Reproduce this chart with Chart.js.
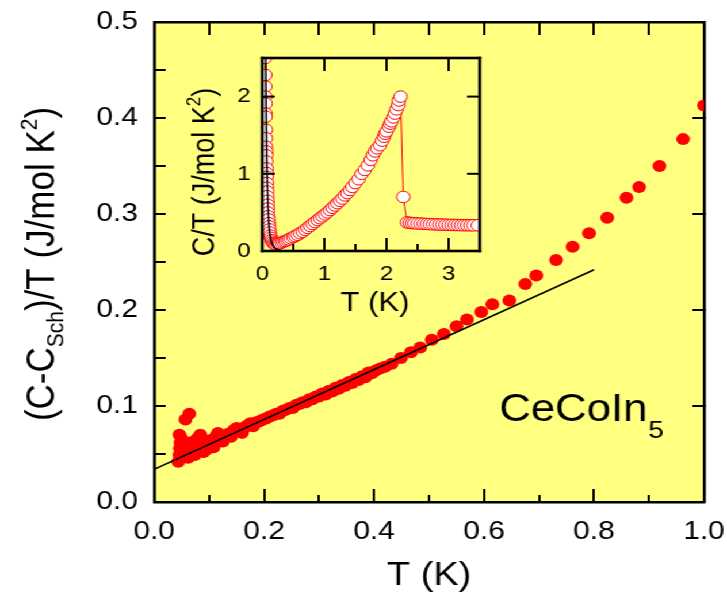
<!DOCTYPE html>
<html><head><meta charset="utf-8">
<script src="https://cdn.jsdelivr.net/npm/chart.js@4.4.0/dist/chart.umd.min.js"></script>
<style>
html,body{margin:0;padding:0;background:#fff;overflow:hidden;width:727px;height:598px;}
#wrap{position:absolute;left:0;top:0;width:632px;height:598px;transform:scaleX(1.1503);transform-origin:0 0;}
#main{position:absolute;left:0;top:0;}
#inset{position:absolute;left:160px;top:40px;}
</style></head><body>
<div id="wrap"><canvas id="main" width="632" height="598"></canvas><canvas id="inset" width="270" height="290"></canvas></div>
<script>
// ---- main panel: (C - C_Sch)/T vs T ----
const mainT = [0.044,0.046,0.047,0.046,0.048,0.050,0.053,0.057,0.064,0.058,
  0.062,0.066,0.071,0.074,0.078,0.084,0.086,0.090,0.096,0.100,
  0.104,0.108,0.112,0.116,0.120,0.125,0.130,0.135,0.140,0.145,
  0.150,0.155,0.160,0.165,0.170,0.175,0.180,0.186,0.192,0.198,
  0.204,0.210,0.216,0.222,0.228,0.234,0.240,0.246,0.252,0.258,
  0.264,0.270,0.276,0.282,0.288,0.294,0.300,0.306,0.312,0.318,
  0.324,0.330,0.336,0.342,0.348,0.354,0.360,0.366,0.372,0.378,
  0.384,0.390,0.396,0.403,0.411,0.420,0.432,0.449,0.467,0.484,
  0.505,0.527,0.550,0.569,0.595,0.615,0.646,0.675,0.695,0.731,
  0.761,0.791,0.824,0.859,0.882,0.919,0.962,1.000];
const mainC = [0.042,0.049,0.056,0.070,0.062,0.066,0.052,0.086,0.092,0.058,
  0.046,0.062,0.056,0.049,0.066,0.070,0.058,0.052,0.055,0.064,
  0.060,0.057,0.068,0.072,0.066,0.063,0.069,0.071,0.068,0.075,
  0.077,0.074,0.072,0.078,0.080,0.082,0.079,0.083,0.084,0.086,
  0.087,0.089,0.090,0.092,0.092,0.095,0.096,0.098,0.098,0.101,
  0.102,0.104,0.104,0.107,0.107,0.110,0.110,0.113,0.112,0.116,
  0.115,0.119,0.118,0.122,0.121,0.125,0.124,0.128,0.127,0.131,
  0.130,0.135,0.134,0.137,0.139,0.141,0.144,0.150,0.156,0.161,
  0.169,0.175,0.183,0.190,0.198,0.206,0.210,0.227,0.236,0.252,
  0.266,0.280,0.296,0.317,0.328,0.350,0.378,0.413];
const fitT = [0, 0.8];
const fitC = [0.034, 0.242];
const mainXTicks = [0, 0.2, 0.4, 0.6, 0.8, 1.0];
const mainYTicks = [0, 0.1, 0.2, 0.3, 0.4, 0.5];
const mainXMinor = [0.1, 0.3, 0.5, 0.7, 0.9];
const mainXMajorInner = [0.2, 0.4, 0.6, 0.8];
const mainTopTicks = [0.1, 0.2, 0.3, 0.4, 0.5, 0.6, 0.7, 0.8, 0.9];
const mainLeftTicks = [0.05, 0.1, 0.15, 0.2, 0.25, 0.3, 0.35, 0.4, 0.45];
const mainRightTicks = [0.1, 0.2, 0.3, 0.4];

// ---- inset: C/T vs T ----
const insetT = [0.045,0.05,0.05,0.05,0.055,0.055,0.055,0.06,0.06,0.06,
  0.065,0.065,0.065,0.07,0.07,0.07,0.075,0.075,0.08,0.08,
  0.085,0.085,0.09,0.09,0.095,0.10,0.105,0.11,0.115,0.12,
  0.13,0.14,0.15,0.165,0.18,0.20,0.22,0.25,
  0.28,0.31,0.34,0.37,0.40,0.43,0.46,0.50,0.53,0.57,
  0.61,0.65,0.69,0.73,0.77,0.81,0.85,0.89,0.93,0.97,
  1.01,1.05,1.09,1.13,1.17,1.21,1.25,1.29,1.33,1.37,
  1.41,1.45,1.50,1.55,1.60,1.65,1.70,1.745,1.78,1.814,
  1.85,1.894,1.93,1.96,1.98,2.0,2.04,2.06,2.08,2.11,
  2.135,2.16,2.19,2.20,2.226,
  2.27,
  2.33,2.37,2.41,2.45,2.50,2.55,2.60,2.65,2.70,2.75,
  2.80,2.85,2.90,2.95,3.00,3.05,3.10,3.15,3.20,3.25,
  3.30,3.35,3.40,3.47];
const insetC = [2.50,2.28,2.13,2.00,1.91,1.78,1.74,1.57,1.46,1.35,
  1.29,1.24,1.16,1.07,1.01,0.96,0.88,0.82,0.77,0.71,
  0.65,0.60,0.55,0.50,0.45,0.41,0.36,0.32,0.28,0.24,
  0.20,0.17,0.14,0.12,0.10,0.09,0.085,0.09,
  0.10,0.11,0.12,0.13,0.14,0.15,0.165,0.18,0.195,0.21,
  0.23,0.25,0.275,0.30,0.325,0.35,0.375,0.40,0.425,0.45,
  0.475,0.50,0.53,0.56,0.59,0.62,0.65,0.68,0.72,0.75,
  0.79,0.83,0.88,0.93,1.00,1.05,1.11,1.18,1.24,1.29,
  1.33,1.37,1.43,1.48,1.52,1.55,1.61,1.65,1.68,1.73,
  1.78,1.835,1.89,1.95,2.0,
  0.70,
  0.37,0.365,0.362,0.36,0.357,0.355,0.352,0.35,0.348,0.346,
  0.345,0.343,0.342,0.34,0.339,0.338,0.337,0.336,0.335,0.334,
  0.334,0.333,0.333,0.333];
const schT = [0.055,0.06,0.065,0.07,0.08,0.09,0.10,0.11,0.12,0.14,0.16,0.19,0.22,0.26,0.30];
const schC = [2.5,2.0,1.6,1.25,0.9,0.62,0.45,0.33,0.24,0.14,0.09,0.05,0.03,0.015,0.005];
const insetXTicks = [0, 1, 2, 3];
const insetYTicks = [0, 1, 2];

const FONT = "'Liberation Sans', Arial, Helvetica, sans-serif";
const YELLOW = '#ffff80';
const RED = '#ff0000';
const zip = (a, b) => a.map((v, i) => ({x: v, y: b[i]}));

function frameAndTicks(ctx, chart, cfg) {
  const ca = chart.chartArea, xs = chart.scales.x, ys = chart.scales.y;
  const L = ca.left, R = ca.right, T = ca.top, B = ca.bottom;
  const tw = cfg.tickW, fw = cfg.frameW;
  ctx.save();
  ctx.fillStyle = '#000';
  cfg.bottom.forEach(t => { const p = xs.getPixelForValue(t[0]); ctx.fillRect(p - tw / 2, B - t[1], tw, t[1]); });
  cfg.top.forEach(t => { const p = xs.getPixelForValue(t[0]); ctx.fillRect(p - tw / 2, T, tw, t[1]); });
  cfg.left.forEach(t => { const p = ys.getPixelForValue(t[0]); ctx.fillRect(L, p - tw / 2, t[1], tw); });
  cfg.right.forEach(t => { const p = ys.getPixelForValue(t[0]); ctx.fillRect(R - t[1], p - tw / 2, t[1], tw); });
  ctx.fillRect(L - fw / 2, T - fw / 2, R - L + fw, fw);
  ctx.fillRect(L - fw / 2, B - fw / 2, R - L + fw, fw);
  ctx.fillRect(L - fw / 2, T - fw / 2, fw, B - T + fw);
  ctx.fillRect(R - fw / 2, T - fw / 2, fw, B - T + fw);
  ctx.restore();
}

function richText(ctx, parts, cx, cy, rot, baseShift) {
  ctx.save();
  ctx.translate(cx, cy);
  if (rot) ctx.rotate(-Math.PI / 2);
  ctx.fillStyle = '#000';
  ctx.textBaseline = 'alphabetic';
  ctx.textAlign = 'left';
  let total = 0;
  parts.forEach(p => { ctx.font = p.size + 'px ' + FONT; p.w = ctx.measureText(p.t).width; total += p.w; });
  let xx = -total / 2;
  parts.forEach(p => { ctx.font = p.size + 'px ' + FONT; ctx.fillText(p.t, xx, baseShift + (p.dy || 0)); xx += p.w; });
  ctx.restore();
}

const mainDecor = {
  id: 'mainDecor',
  beforeDraw(chart) {
    const ctx = chart.ctx, ca = chart.chartArea;
    ctx.save(); ctx.fillStyle = YELLOW; ctx.fillRect(ca.left, ca.top, ca.right - ca.left, ca.bottom - ca.top); ctx.restore();
  },
  afterDraw(chart) {
    const ctx = chart.ctx;
    ctx.save();
    ctx.fillStyle = '#000';
    ctx.font = '33px ' + FONT; ctx.textAlign = 'center'; ctx.textBaseline = 'middle';
    ctx.fillText('T (K)', 373, 576);
    ctx.restore();
    const f = 35;
    richText(ctx, [
      {t: '(C-C', size: f}, {t: 'Sch', size: 21, dy: 8},
      {t: ')/T (J/mol K', size: f}, {t: '2', size: 21, dy: -15}, {t: ')', size: f}
    ], 34, 264, true, 12.5);
    ctx.save();
    ctx.fillStyle = '#000'; ctx.textBaseline = 'alphabetic'; ctx.textAlign = 'left';
    ctx.font = '38px ' + FONT;
    const w = ctx.measureText('CeCoIn').width;
    ctx.fillText('CeCoIn', 434, 421);
    ctx.font = '24px ' + FONT;
    ctx.fillText('5', 434 + w + 1, 438);
    ctx.restore();
  }
};

const insetDecor = {
  id: 'insetDecor',
  afterDraw(chart) {
    const ctx = chart.ctx;
    frameAndTicks(ctx, chart, {
      tickW: 2, frameW: 2.6,
      bottom: [[1, 13], [2, 13], [3, 13], [0.5, 7], [1.5, 7], [2.5, 7]],
      top: [[1, 13], [2, 13], [3, 13]],
      left: [[1, 11], [2, 11]],
      right: [[1, 11], [2, 11]]
    });
    ctx.save();
    ctx.fillStyle = '#000';
    ctx.font = '27px ' + FONT; ctx.textAlign = 'center'; ctx.textBaseline = 'middle';
    ctx.fillText('T (K)', 166, 264);
    ctx.restore();
    richText(ctx, [
      {t: 'C/T (J/mol K', size: 27}, {t: '2', size: 17, dy: -12}, {t: ')', size: 27}
    ], 16, 132, true, 9.7);
  }
};

const noPadX = h => s => { s.height = h; s.paddingLeft = 0; s.paddingRight = 0; s.paddingTop = 0; s.paddingBottom = 0; };
const noPadY = w => s => { s.width = w; s.paddingTop = 0; s.paddingBottom = 0; s.paddingLeft = 0; s.paddingRight = 0; };
const BORDER = {display: true, color: '#000', width: 2.6};
const NOBORDER = {display: false};
// a scale that only draws inward tick marks (library grid ticks with negative length)
function tickAxis(position, min, max, values, len, weight, withBorder) {
  const horiz = position === 'top' || position === 'bottom';
  return {
    type: 'linear', position, min, max, weight,
    grid: {display: true, drawOnChartArea: false, drawTicks: true, tickLength: -len,
           tickWidth: 2, tickColor: '#000', color: '#000', lineWidth: 2},
    border: withBorder ? BORDER : NOBORDER,
    ticks: {display: false, autoSkip: false},
    afterBuildTicks: s => { s.ticks = values.map(v => ({value: v})); },
    afterFit: horiz ? noPadX(0) : noPadY(0)
  };
}

new Chart(document.getElementById('main'), {
  type: 'scatter',
  data: {
    datasets: [
      {data: zip(fitT, fitC), showLine: true, borderColor: '#000', borderWidth: 1.6,
       pointRadius: 0, order: 0, clip: 0},
      {data: zip(mainT, mainC), pointRadius: 6, pointBackgroundColor: RED, pointBorderWidth: 0,
       pointBorderColor: RED, showLine: false, order: 1, clip: 0}
    ]
  },
  options: {
    responsive: false, animation: false, events: [],
    layout: {autoPadding: false, padding: {left: 0, top: 22, right: 20, bottom: 0}},
    plugins: {legend: {display: false}, tooltip: {enabled: false}},
    scales: {
      x: {type: 'linear', position: 'bottom', min: 0, max: 1, weight: 0,
          grid: {display: false, drawTicks: false}, border: BORDER,
          ticks: {autoSkip: false, maxRotation: 0, padding: 14, color: '#000',
                  font: {family: FONT, size: 26}, callback: v => Number(v).toFixed(1)},
          afterBuildTicks: s => { s.ticks = mainXTicks.map(v => ({value: v})); },
          afterFit: noPadX(96)},
      y: {type: 'linear', position: 'left', min: 0, max: 0.5, weight: 0,
          grid: {display: false, drawTicks: false}, border: BORDER,
          ticks: {autoSkip: false, padding: 14, color: '#000',
                  font: {family: FONT, size: 26}, callback: v => Number(v).toFixed(1)},
          afterBuildTicks: s => { s.ticks = mainYTicks.map(v => ({value: v})); },
          afterFit: noPadY(134)},
      xMaj: tickAxis('bottom', 0, 1, mainXMajorInner, 13, -2, false),
      xMin: tickAxis('bottom', 0, 1, mainXMinor, 7, -1, false),
      x2: tickAxis('top', 0, 1, mainTopTicks, 13, 0, true),
      yTick: tickAxis('left', 0, 0.5, mainLeftTicks, 10, -1, false),
      y2: tickAxis('right', 0, 0.5, mainRightTicks, 10, 0, true)
    }
  },
  plugins: [mainDecor]
});

new Chart(document.getElementById('inset'), {
  type: 'scatter',
  data: {
    datasets: [
      {data: zip(schT, schC), showLine: true, borderColor: '#000', borderWidth: 1.5,
       pointRadius: 0, cubicInterpolationMode: 'monotone', order: 0, clip: 0},
      {data: zip(insetT, insetC), showLine: true, borderColor: RED, borderWidth: 1,
       pointRadius: 5.8, pointBackgroundColor: '#fff', pointBorderColor: RED, pointBorderWidth: 1,
       order: 1, clip: 0}
    ]
  },
  options: {
    responsive: false, animation: false, events: [],
    layout: {autoPadding: false, padding: {left: 0, top: 18, right: 13, bottom: 0}},
    plugins: {legend: {display: false}, tooltip: {enabled: false}},
    scales: {
      x: {type: 'linear', min: 0, max: 3.5,
          grid: {display: false, drawTicks: false}, border: {display: false},
          ticks: {autoSkip: false, maxRotation: 0, padding: 11, color: '#000',
                  font: {family: FONT, size: 21}, callback: v => String(v)},
          afterBuildTicks: s => { s.ticks = insetXTicks.map(v => ({value: v})); },
          afterFit: noPadX(79)},
      y: {type: 'linear', min: 0, max: 2.5,
          grid: {display: false, drawTicks: false}, border: {display: false},
          ticks: {autoSkip: false, padding: 10, color: '#000',
                  font: {family: FONT, size: 21}, callback: v => String(v)},
          afterBuildTicks: s => { s.ticks = insetYTicks.map(v => ({value: v})); },
          afterFit: noPadY(68)}
    }
  },
  plugins: [insetDecor]
});
</script>
</body></html>
